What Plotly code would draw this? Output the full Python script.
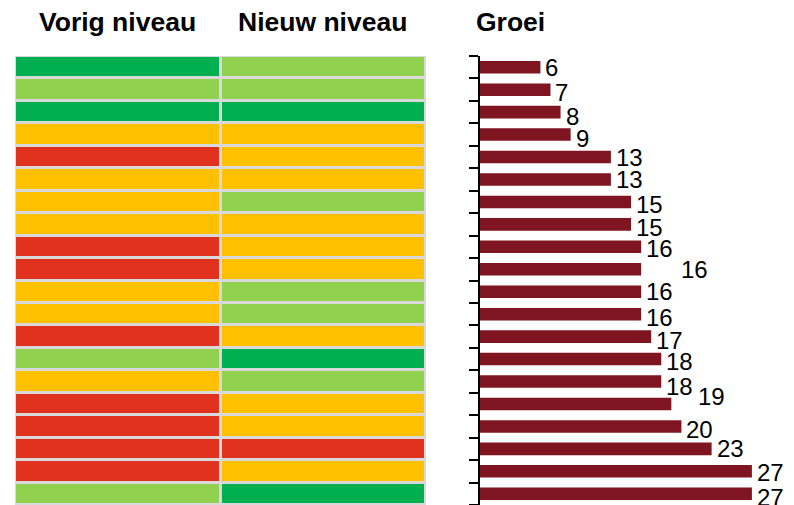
import plotly.graph_objects as go

# ---- data ----
col_titles = ["Vorig niveau", "Nieuw niveau"]
bar_title = "Groei"
vorig = ["groen", "lichtgroen", "groen", "oranje", "rood", "oranje", "oranje", "oranje",
         "rood", "rood", "oranje", "oranje", "rood", "lichtgroen", "oranje", "rood",
         "rood", "rood", "rood", "lichtgroen"]
nieuw = ["lichtgroen", "lichtgroen", "groen", "oranje", "oranje", "oranje", "lichtgroen", "oranje",
         "oranje", "oranje", "lichtgroen", "lichtgroen", "oranje", "groen", "lichtgroen", "oranje",
         "oranje", "rood", "oranje", "groen"]
groei = [6, 7, 8, 9, 13, 13, 15, 15, 16, 16, 16, 16, 17, 18, 18, 19, 20, 23, 27, 27]
levels = ["rood", "oranje", "lichtgroen", "groen"]

# ---- style ----
level_colors = ["#e0321e", "#ffc000", "#92d050", "#00b050"]
bar_color = "#7f1520"
grid_gray = "#d9d9d9"
W, H = 794, 505
TOP = 56
label_xshift = [3, 3, 3, 3, 3, 3, 3, 3, 3, 38, 3, 3, 3, 3, 3, 25, 3, 3, 3, 3]
label_yshift = [0, -3, -4, -4, 0, 0, -3, -3, -2, 0, 0, -3, -4, -2, -5, 7, -3, 0, -1, -4]

n = len(groei)
rows = list(range(n))
z = [[levels.index(a), levels.index(b)] for a, b in zip(vorig, nieuw)]

colorscale = [[0, level_colors[0]], [1/3, level_colors[1]], [2/3, level_colors[2]], [1, level_colors[3]]]

fig = go.Figure()
fig.add_trace(go.Heatmap(
    z=z, x=[0, 1], y=rows, zmin=0, zmax=3, colorscale=colorscale, showscale=False,
    xgap=3, ygap=3, hoverinfo="skip", xaxis="x", yaxis="y"))

fig.add_trace(go.Bar(
    x=groei, y=rows, orientation="h", marker=dict(color=bar_color, line_width=0),
    width=0.56, xaxis="x2", yaxis="y2", hoverinfo="x"))

ytop = 1 - TOP / H
fig.update_layout(
    width=W, height=H, margin=dict(l=0, r=0, t=0, b=0),
    paper_bgcolor="white", plot_bgcolor="rgba(0,0,0,0)", showlegend=False,
    font=dict(family="Liberation Sans, Arial, sans-serif", color="black"),
    xaxis=dict(domain=[15 / W, 426 / W], range=[-0.5, 1.5], visible=False, fixedrange=True),
    yaxis=dict(domain=[0, ytop], range=[n - 0.5, -0.5], visible=False, fixedrange=True),
    xaxis2=dict(domain=[480 / W, 1], range=[0, 31.18], visible=False, anchor="y2"),
    yaxis2=dict(domain=[0, ytop], range=[n - 0.5, -0.5], anchor="x2",
                showline=True, linecolor="black", linewidth=2,
                ticks="outside", ticklen=9, tickwidth=1.5, tickcolor="black",
                tickmode="array", tickvals=[i - 0.5 for i in range(n + 1)],
                ticktext=[""] * (n + 1), showgrid=False, zeroline=False),
    shapes=[dict(type="rect", xref="x", yref="y", x0=-0.5, x1=1.5, y0=-0.5, y1=n - 0.5,
                 fillcolor=grid_gray, line=dict(color=grid_gray, width=3), layer="below")],
)

ann = []
centers = [118, 322]
for t, cx in zip(col_titles, centers):
    ann.append(dict(text=f"<b>{t}</b>", x=cx / W, y=1 - 22 / H, xref="paper", yref="paper",
                    xanchor="center", yanchor="middle", showarrow=False,
                    font=dict(size=26.5)))
ann.append(dict(text=f"<b>{bar_title}</b>", x=474 / W, y=1 - 22 / H, xref="paper", yref="paper",
                xanchor="left", yanchor="middle", showarrow=False, font=dict(size=26.5)))
for i, v in enumerate(groei):
    ann.append(dict(text=str(v), x=v, y=i, xref="x2", yref="y2", xanchor="left",
                    yanchor="middle", showarrow=False, xshift=label_xshift[i],
                    yshift=label_yshift[i], font=dict(size=24)))
fig.update_layout(annotations=ann)

fig.write_html("out.html", config={"displayModeBar": False},
               post_script="document.body.style.margin='0';")
